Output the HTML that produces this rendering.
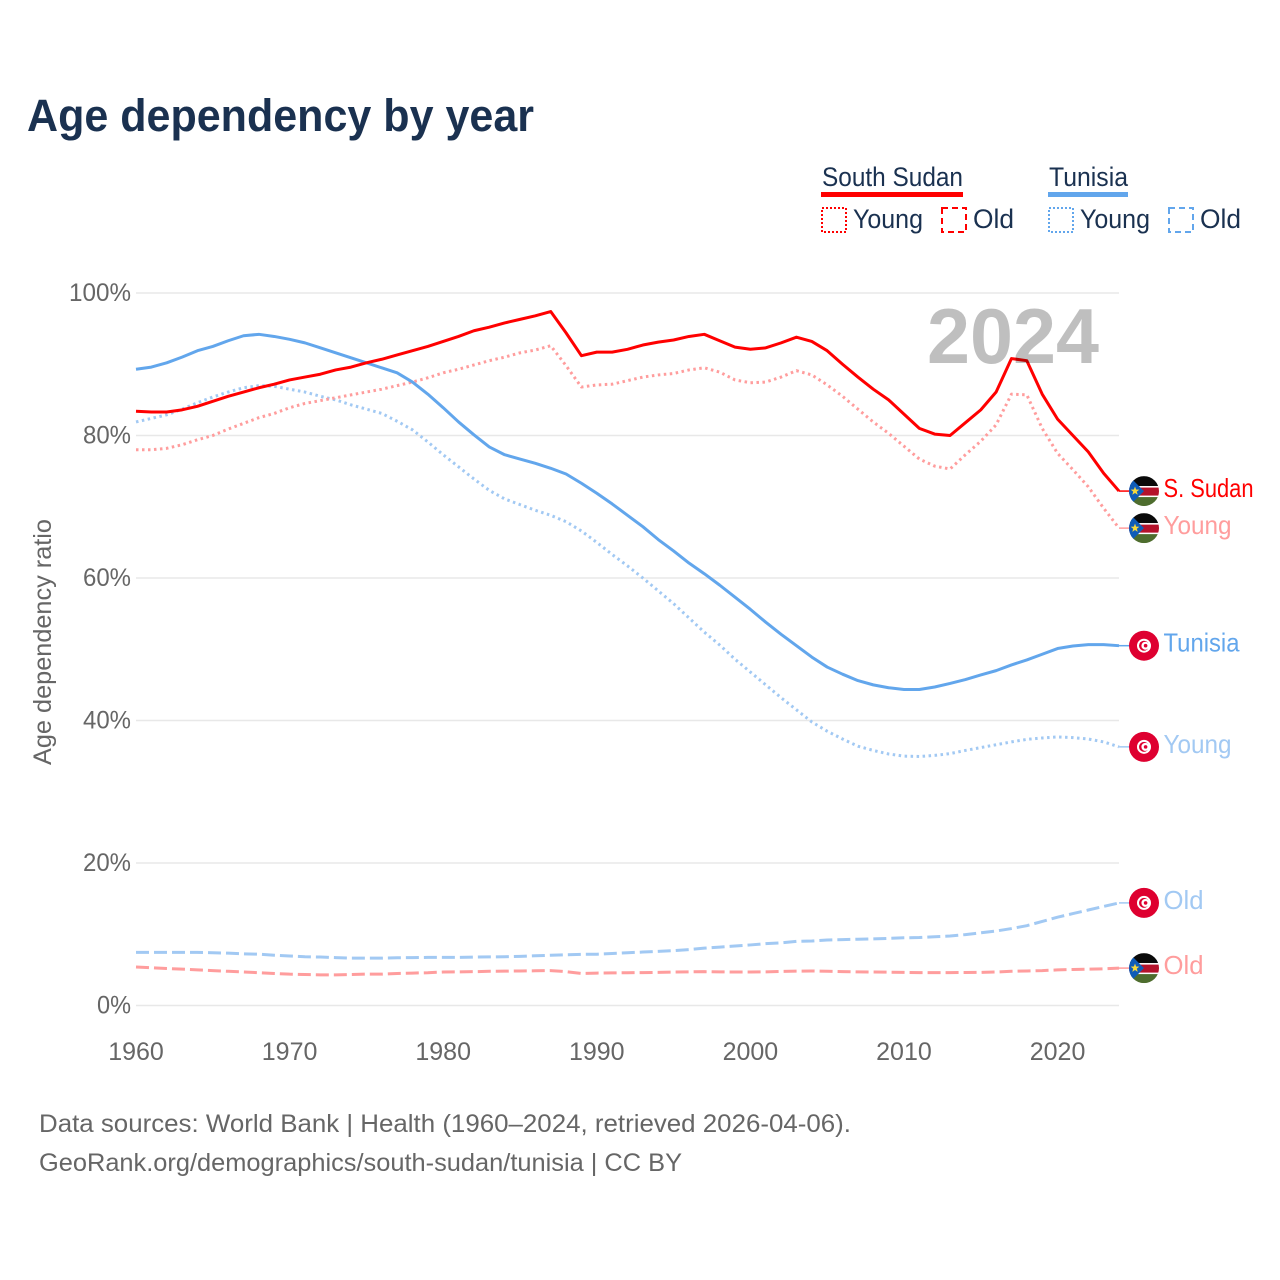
<!DOCTYPE html>
<html lang="en">
<head>
<meta charset="utf-8">
<title>Age dependency by year</title>
<style>
html,body{margin:0;padding:0;background:#fff;}
svg{display:block;font-family:"Liberation Sans",sans-serif;}
</style>
</head>
<body>
<svg id="chart" xmlns="http://www.w3.org/2000/svg" width="1280" height="1280" viewBox="0 0 1280 1280">
  <rect x="0" y="0" width="1280" height="1280" fill="#fff"/>
  <text x="27" y="131" font-size="45" font-weight="700" fill="#1a3150" textLength="507" lengthAdjust="spacingAndGlyphs">Age dependency by year</text>

  <g font-size="27" fill="#1a3150">
    <text x="822" y="186" textLength="141" lengthAdjust="spacingAndGlyphs">South Sudan</text>
    <rect x="821" y="192" width="142" height="5" fill="#ff0000"/>
    <rect x="822" y="208" width="24" height="24" fill="none" stroke="#ff0000" stroke-width="2" stroke-dasharray="2 2"/>
    <text x="853" y="228" textLength="70" lengthAdjust="spacingAndGlyphs">Young</text>
    <rect x="942" y="208" width="24" height="24" fill="none" stroke="#ff0000" stroke-width="2" stroke-dasharray="6 4"/>
    <text x="973" y="228" textLength="41" lengthAdjust="spacingAndGlyphs">Old</text>

    <text x="1049" y="186" textLength="79" lengthAdjust="spacingAndGlyphs">Tunisia</text>
    <rect x="1048" y="192" width="80" height="5" fill="#62a6ec"/>
    <rect x="1049" y="208" width="24" height="24" fill="none" stroke="#62a6ec" stroke-width="2" stroke-dasharray="2 2"/>
    <text x="1080" y="228" textLength="70" lengthAdjust="spacingAndGlyphs">Young</text>
    <rect x="1169" y="208" width="24" height="24" fill="none" stroke="#62a6ec" stroke-width="2" stroke-dasharray="6 4"/>
    <text x="1200" y="228" textLength="41" lengthAdjust="spacingAndGlyphs">Old</text>
  </g>

  <text transform="translate(51,642) rotate(-90)" text-anchor="middle" font-size="25" fill="#666" textLength="246" lengthAdjust="spacingAndGlyphs">Age dependency ratio</text>

  <g id="grid"></g>
  <g id="y-ticks" font-size="25" fill="#666" text-anchor="end"></g>
  <g id="x-ticks" font-size="25" fill="#666" text-anchor="middle"></g>
  <g id="series"></g>
  <g id="ends"></g>

  <text x="927" y="363" font-size="78" font-weight="700" fill="#000" fill-opacity="0.25" textLength="172" lengthAdjust="spacingAndGlyphs">2024</text>

  <g font-size="25" fill="#666">
    <text x="39" y="1132" textLength="812" lengthAdjust="spacingAndGlyphs">Data sources: World Bank | Health (1960–2024, retrieved 2026-04-06).</text>
    <text x="39" y="1171" textLength="643" lengthAdjust="spacingAndGlyphs">GeoRank.org/demographics/south-sudan/tunisia | CC BY</text>
  </g>
</svg>

<script>
var firstYear = 1960;
var lastYear = 2024;
var xTickYears = [1960, 1970, 1980, 1990, 2000, 2010, 2020];
var yTickValues = [0, 20, 40, 60, 80, 100];

var southSudanTotal = [83.4,83.3,83.3,83.6,84.1,84.8,85.5,86.1,86.7,87.2,87.8,88.2,88.6,89.2,89.6,90.2,90.7,91.3,91.9,92.5,93.2,93.9,94.7,95.2,95.8,96.3,96.8,97.4,94.4,91.2,91.7,91.7,92.1,92.7,93.1,93.4,93.9,94.2,93.3,92.4,92.1,92.3,93.0,93.8,93.2,91.9,90.0,88.2,86.5,85.0,83.0,81.0,80.2,80.0,81.8,83.6,86.1,90.8,90.5,85.8,82.3,80.0,77.7,74.7,72.2];
var southSudanYoung = [78.0,78.0,78.2,78.7,79.4,80.0,80.9,81.7,82.5,83.1,83.9,84.5,84.9,85.3,85.7,86.1,86.5,87.0,87.5,88.1,88.8,89.3,89.9,90.5,91.0,91.6,92.0,92.6,89.8,86.8,87.1,87.2,87.7,88.2,88.5,88.7,89.2,89.5,88.9,87.8,87.4,87.5,88.2,89.1,88.5,87.1,85.5,83.7,81.9,80.3,78.5,76.7,75.7,75.3,77.3,79.2,81.5,85.8,85.7,81.0,77.5,75.2,72.8,69.8,67.0];
var southSudanOld = [5.4,5.3,5.2,5.1,5.0,4.9,4.8,4.7,4.6,4.5,4.4,4.35,4.3,4.3,4.35,4.4,4.4,4.5,4.55,4.6,4.7,4.72,4.75,4.8,4.82,4.85,4.87,4.9,4.75,4.5,4.55,4.58,4.6,4.62,4.65,4.7,4.72,4.75,4.72,4.7,4.7,4.72,4.78,4.82,4.85,4.8,4.75,4.72,4.7,4.68,4.65,4.62,4.62,4.62,4.63,4.65,4.7,4.8,4.85,4.9,5.0,5.05,5.1,5.15,5.25];

var tunisiaTotal = [89.3,89.6,90.2,91.0,91.9,92.5,93.3,94.0,94.2,93.9,93.5,93.0,92.3,91.6,90.9,90.2,89.5,88.8,87.5,85.8,83.9,81.9,80.1,78.4,77.3,76.7,76.1,75.4,74.6,73.3,71.9,70.4,68.8,67.2,65.4,63.8,62.1,60.6,59.0,57.3,55.6,53.8,52.1,50.5,48.9,47.5,46.5,45.6,45.0,44.6,44.35,44.35,44.7,45.2,45.75,46.4,47.0,47.8,48.5,49.3,50.1,50.45,50.65,50.65,50.5];
var tunisiaYoung = [81.9,82.4,82.9,83.7,84.6,85.4,86.1,86.7,87.0,86.9,86.5,86.1,85.5,85.0,84.3,83.7,83.1,82.0,80.8,79.1,77.3,75.6,73.9,72.3,71.1,70.3,69.5,68.8,67.9,66.6,65.0,63.3,61.7,60.0,58.2,56.4,54.4,52.4,50.6,48.6,46.8,45.0,43.2,41.5,39.8,38.5,37.4,36.4,35.8,35.3,35.0,34.95,35.1,35.35,35.8,36.2,36.6,37.0,37.35,37.55,37.7,37.6,37.4,37.0,36.3];
var tunisiaOld = [7.45,7.45,7.45,7.45,7.45,7.4,7.35,7.25,7.2,7.05,6.95,6.85,6.8,6.72,6.65,6.65,6.65,6.7,6.72,6.75,6.75,6.75,6.8,6.82,6.85,6.9,6.98,7.05,7.12,7.18,7.2,7.3,7.4,7.5,7.6,7.7,7.85,8.05,8.2,8.35,8.5,8.68,8.8,9.0,9.05,9.2,9.25,9.3,9.35,9.42,9.5,9.55,9.65,9.75,9.95,10.2,10.45,10.8,11.2,11.8,12.4,12.9,13.4,13.9,14.4];

var svgNS = 'http://www.w3.org/2000/svg';
var plotLeft = 136, plotRight = 1119, plotTop = 293, plotBottom = 1005.5;
var yMax = 100;

function xScale(year) {
  return plotLeft + (year - firstYear) / (lastYear - firstYear) * (plotRight - plotLeft);
}
function yScale(value) {
  return plotBottom - value / yMax * (plotBottom - plotTop);
}
function make(tag, attrs, parent) {
  var el = document.createElementNS(svgNS, tag);
  for (var k in attrs) el.setAttribute(k, attrs[k]);
  parent.appendChild(el);
  return el;
}

var gridGroup = document.getElementById('grid');
var yTickGroup = document.getElementById('y-ticks');
var xTickGroup = document.getElementById('x-ticks');
var seriesGroup = document.getElementById('series');
var endsGroup = document.getElementById('ends');

yTickValues.forEach(function (v) {
  var line = make('line', {x1: plotLeft, x2: plotRight, y1: yScale(v), y2: yScale(v), stroke: '#e8e8e8', 'stroke-width': 1.5}, gridGroup);
  
  
  var label = make('text', {x: 131, y: yScale(v) + 8, textLength: v === 100 ? 62 : v === 0 ? 34 : 48, lengthAdjust: 'spacingAndGlyphs'}, yTickGroup);
  
  
  label.textContent = v + '%';
});

xTickYears.forEach(function (yr) {
  var label = make('text', {x: xScale(yr), y: 1060}, xTickGroup);
  
  
  label.textContent = String(yr);
});

function drawSouthSudanFlag(g, cx, cy, id) {
  var clip = make('clipPath', {id: id}, g);
  make('circle', {cx: cx, cy: cy, r: 15}, clip);
  var f = make('g', {'clip-path': 'url(#' + id + ')'}, g);
  make('rect', {x: cx - 15, y: cy - 15, width: 30, height: 10, fill: '#0a0a0a'}, f);
  make('rect', {x: cx - 15, y: cy - 5, width: 30, height: 11, fill: '#ffffff'}, f);
  make('rect', {x: cx - 15, y: cy - 3.5, width: 30, height: 8, fill: '#b5122b'}, f);
  make('rect', {x: cx - 15, y: cy + 6, width: 30, height: 9, fill: '#4e6d2e'}, f);
  make('polygon', {points: (cx - 15) + ',' + (cy - 15) + ' ' + cx + ',' + cy + ' ' + (cx - 15) + ',' + (cy + 15), fill: '#0f5cb8'}, f);
  var s = [];
  for (var i = 0; i < 10; i++) {
    var r = i % 2 ? 1.9 : 4.6;
    var a = -Math.PI / 2 + i * Math.PI / 5;
    s.push((cx - 9 + r * Math.cos(a)) + ',' + (cy + r * Math.sin(a)));
  }
  make('polygon', {points: s.join(' '), fill: '#f6d83c'}, f);
}

function drawTunisiaFlag(g, cx, cy) {
  make('circle', {cx: cx, cy: cy, r: 15, fill: '#de0030'}, g);
  make('circle', {cx: cx, cy: cy, r: 7, fill: '#ffffff'}, g);
  make('circle', {cx: cx, cy: cy, r: 5, fill: '#de0030'}, g);
  make('circle', {cx: cx + 1.4, cy: cy, r: 4, fill: '#ffffff'}, g);
  make('circle', {cx: cx + 1.6, cy: cy, r: 1.8, fill: '#de0030'}, g);
}

function drawSeries(name, values, color, width, dash, labelText, labelWidth, flag) {
  var d = values.map(function (v, i) {
    return (i ? 'L' : 'M') + xScale(firstYear + i).toFixed(2) + ' ' + yScale(v).toFixed(2);
  }).join(' ');
  var path = make('path', {d: d, fill: 'none', stroke: color, 'stroke-width': width, 'stroke-linejoin': 'round'}, seriesGroup);
  if (dash) path.setAttribute('stroke-dasharray', dash);
  
  

  var endY = yScale(values[values.length - 1]);
  var endX = xScale(lastYear);
  var g = make('g', {}, endsGroup);
  
  
  make('line', {x1: endX, x2: endX + 12, y1: endY, y2: endY, stroke: color, 'stroke-width': 1.5}, g);
  var flagGroup = make('g', {}, g);
  
  
  if (flag === 'ss') drawSouthSudanFlag(flagGroup, endX + 25, endY, 'clip-' + name);
  else drawTunisiaFlag(flagGroup, endX + 25, endY);
  var t = make('text', {x: endX + 44.5, y: endY + 6, 'font-size': 26, fill: color, textLength: labelWidth, lengthAdjust: 'spacingAndGlyphs'}, g);
  
  
  t.textContent = labelText;
}

drawSeries('tunisia-old', tunisiaOld, '#a2c9f3', 3, '13 5', 'Old', 40, 'tn');
drawSeries('south-sudan-old', southSudanOld, '#ff9d9d', 3, '13 5', 'Old', 40, 'ss');
drawSeries('tunisia-young', tunisiaYoung, '#a2c9f3', 3, '2.5 3.5', 'Young', 68, 'tn');
drawSeries('south-sudan-young', southSudanYoung, '#ff9d9d', 3, '2.5 3.5', 'Young', 68, 'ss');
drawSeries('tunisia-total', tunisiaTotal, '#62a6ec', 3, null, 'Tunisia', 76, 'tn');
drawSeries('south-sudan-total', southSudanTotal, '#ff0000', 3, null, 'S. Sudan', 90, 'ss');
</script>
</body>
</html>
